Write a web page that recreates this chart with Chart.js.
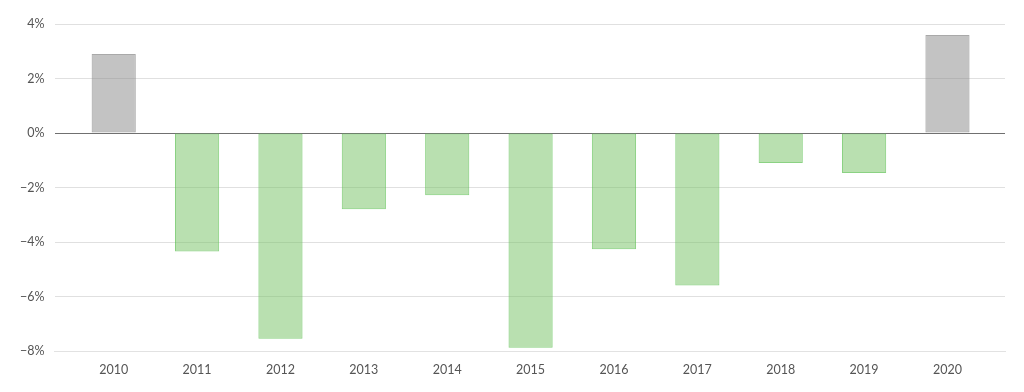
<!DOCTYPE html>
<html>
<head>
<meta charset="utf-8">
<script src="https://cdn.jsdelivr.net/npm/chart.js@4"></script>
<style>
    html, body { margin: 0; padding: 0; background: #fff; }
    #wrap { width: 1024px; height: 392px; }
</style>
</head>
<body>
<div id="wrap"><canvas id="chart"></canvas></div>
<script>
const years = ['2010', '2011', '2012', '2013', '2014', '2015', '2016', '2017', '2018', '2019', '2020'];
const changes = [2.9, -4.35, -7.55, -2.8, -2.28, -7.88, -4.27, -5.6, -1.1, -1.47, 3.6];
const yTicks = [4, 2, 0, -2, -4, -6, -8];

const gray = 'rgba(140, 140, 140, 0.52)';
const grayBorder = 'rgba(140, 140, 140, 0.75)';
const green = 'rgba(120, 196, 104, 0.52)';
const greenBorder = 'rgba(100, 195, 90, 0.75)';

// first and last year in grey, the rest in green
const isEdge = (i) => i === 0 || i === years.length - 1;

// x is a linear index axis so the gridlines can run past the outer bars
const points = changes.map((v, i) => ({ x: i, y: v }));

new Chart(document.getElementById('chart'), {
    type: 'bar',
    data: {
        datasets: [{
            data: points,
            backgroundColor: changes.map((_, i) => isEdge(i) ? gray : green),
            borderColor: changes.map((_, i) => isEdge(i) ? grayBorder : greenBorder),
            borderWidth: 1,
            borderSkipped: false,
            barPercentage: 0.53,
            categoryPercentage: 1,
        }],
    },
    options: {
        responsive: true,
        maintainAspectRatio: false,
        animation: false,
        layout: { padding: { top: 24, right: 19, left: 10, bottom: 12 } },
        plugins: { legend: { display: false }, tooltip: { enabled: false } },
        scales: {
            x: {
                type: 'linear',
                offset: false,
                min: -0.71,
                max: years.length - 1 + 0.69,
                afterBuildTicks: (axis) => { axis.ticks = years.map((_, i) => ({ value: i })); },
                grid: { display: false, offset: false },
                border: { display: true, color: '#e2e2e2' },
                ticks: {
                    color: '#555',
                    font: { family: 'Lato', size: 12.5 },
                    padding: 3,
                    maxRotation: 0,
                    autoSkip: false,
                    callback: (v) => years[v],
                },
            },
            y: {
                min: -8,
                max: 4,
                afterBuildTicks: (axis) => { axis.ticks = yTicks.map((v) => ({ value: v })); },
                border: { display: false },
                grid: {
                    color: (ctx) => ctx.tick && ctx.tick.value === 0 ? '#707070' : '#e0e0e0',
                    drawTicks: false,
                },
                ticks: {
                    color: '#555',
                    font: { family: 'Lato', size: 12.5 },
                    padding: 10,
                    callback: (v) => (v < 0 ? '\u2212' + Math.abs(v) : v) + '%',
                },
            },
        },
    },
});
</script>
</body>
</html>
